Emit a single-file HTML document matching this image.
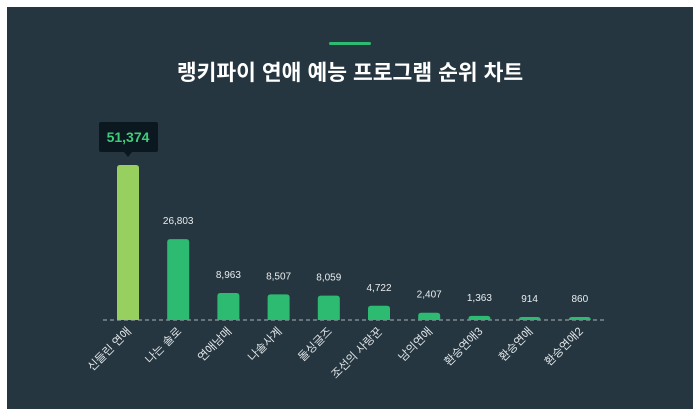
<!DOCTYPE html>
<html><head><meta charset="utf-8">
<style>
body{margin:0;width:700px;height:420px;background:#fff;overflow:hidden;font-family:"Liberation Sans","Noto Sans CJK KR",sans-serif;}
#panel{position:absolute;left:7px;top:7px;width:686px;height:402px;background:#253640;}
svg{position:absolute;left:0;top:0;}
</style></head><body>
<div id="panel"></div>
<svg id="chart" width="700" height="420">
<rect x="329" y="42" width="42" height="3" rx="1.5" fill="#2dbb72"/>
<text x="350" y="80" text-anchor="middle" fill="#fff" font-size="21.5" font-weight="bold" font-family="Liberation Sans, Noto Sans CJK KR, sans-serif">랭키파이 연애 예능 프로그램 순위 차트</text>
<line x1="103" y1="320" x2="606" y2="320" stroke="#aab4ba" stroke-width="1" stroke-dasharray="4,3"/>
</svg>
<script>
const categories=["신들린 연애","나는 솔로","연애남매","나솔사계","돌싱글즈","조선의 사랑꾼","남의연애","환승연애3","환승연애","환승연애2"];
const values=[51374,26803,8963,8507,8059,4722,2407,1363,914,860];
const valueLabels=["51,374","26,803","8,963","8,507","8,059","4,722","2,407","1,363","914","860"];
const svg=document.getElementById('chart');
const NS="http://www.w3.org/2000/svg";
const baseY=320,maxH=155,maxV=51374;
function xPos(i){return 128+i*50.2;}
function yH(v){return v/maxV*maxH;}
function mk(t,a){const e=document.createElementNS(NS,t);for(const k in a)e.setAttribute(k,a[k]);svg.appendChild(e);return e;}
const ff="Liberation Sans, Noto Sans CJK KR, sans-serif";
values.forEach((v,i)=>{
  const h=Math.max(yH(v),3),x=xPos(i);
  const b=mk('path',{d:`M${x-11},${baseY} V${baseY-h+3} Q${x-11},${baseY-h} ${x-8},${baseY-h} H${x+8} Q${x+11},${baseY-h} ${x+11},${baseY-h+3} V${baseY} Z`,fill:i===0?'#97d05f':'#2dbb72'});
  
  
  if(i>0){
    const t=mk('text',{x:x,y:baseY-h-15,'text-anchor':'middle',fill:'#e8ecee','font-size':'10','font-family':ff});
    t.textContent=valueLabels[i];
    
    
  }
  const l=mk('text',{x:x+4,y:baseY+12,'text-anchor':'end',fill:'#e0e5e8','font-size':'11.5','font-family':ff,transform:`rotate(-45 ${x+4} ${baseY+12})`});
  l.textContent=categories[i];
  
  
});
const x0=xPos(0),top0=baseY-yH(values[0]);
const tip=mk('rect',{x:x0-29,y:top0-43,width:59,height:30,rx:2,fill:'#0c1820'});


const tp=mk('path',{d:`M${x0-4},${top0-13} L${x0},${top0-8} L${x0+4},${top0-13} Z`,fill:'#0c1820'});


const tt=mk('text',{x:x0,y:top0-23,'text-anchor':'middle',fill:'#3dcc7a','font-size':'14','font-weight':'bold','font-family':ff});
tt.textContent=valueLabels[0];


</script>
</body></html>
